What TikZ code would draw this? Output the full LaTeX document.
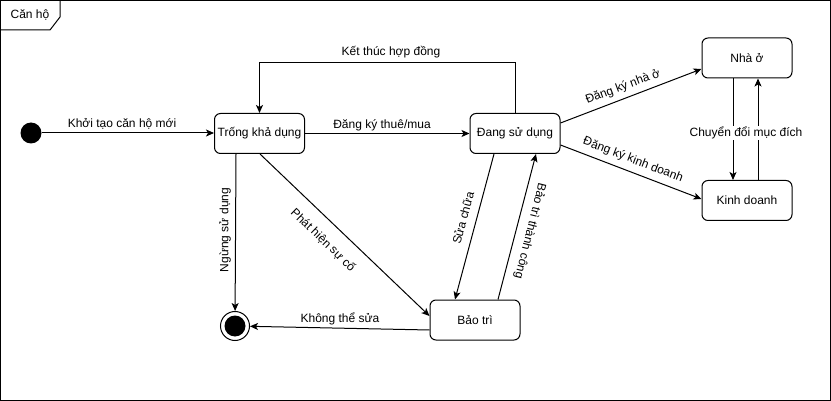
\documentclass[tikz,border=0pt]{standalone}
\usepackage{fontspec}
\setmainfont{Liberation Sans}
\usetikzlibrary{arrows.meta,calc}
\begin{document}
\begin{tikzpicture}[x=1pt,y=-1pt,
  every node/.style={font=\fontsize{12}{14}\selectfont},
  state/.style={draw,line width=1pt,rounded corners=6pt,minimum width=90pt,minimum height=40pt,inner sep=0pt},
  arr/.style={line width=1pt,-{Stealth[length=8pt,width=7pt,inset=2pt]}},
  lbl/.style={inner sep=1pt},
  initstate/.style={circle,fill=black,minimum size=21pt,inner sep=0pt},
  finalstate/.style={circle,draw,line width=1pt,minimum size=29pt,inner sep=0pt}
]
\useasboundingbox (0,0) rectangle (831,401);
\draw[line width=1pt] (0.5,0.5) rectangle (830.5,400.5);
\draw[line width=1pt] (0.5,30) -- (50,30) -- (60,17) -- (60,0.5);
\node[lbl] (tab) at (30,15) {Căn hộ};

\node[initstate] (init) at (31,133) {};
\node[state] (trong) at (259.5,133.5) {Trống khả dụng};
\node[state] (dang) at (515,133.5) {Đang sử dụng};
\node[state] (nha) at (747,58) {Nhà ở};
\node[state] (kd) at (747,200.5) {Kinh doanh};
\node[state] (bt) at (475,320) {Bảo trì};
\node[finalstate] (fin) at (235,326) {};
\fill (fin) circle (10.5pt);

% edges
\draw[arr] (init) -- (init -| trong.west);
\draw[arr] (trong) -- (dang);
\draw[arr] (dang.north) -- ++(0,-50.5) coordinate (k1) -| (trong.north);
\draw[arr] ([xshift=-23.5pt]trong.south) -- (fin);
\draw[arr] ([xshift=0.5pt]trong.south) -- ([yshift=4pt]bt.west);
\draw[arr] ([xshift=-21pt]dang.south) -- ([xshift=-20pt]bt.north);
\draw[arr] ([xshift=23pt]bt.north) -- ([xshift=21pt]dang.south);
\draw[arr] ([yshift=10.5pt]dang.east) -- ([yshift=-11pt]nha.west);
\draw[arr] ([yshift=-11.5pt]dang.east) -- ([yshift=1.5pt]kd.west);
\draw[arr] ([xshift=-14pt]nha.south) -- ([xshift=-14pt]kd.north);
\draw[arr] ([xshift=11pt]kd.north) -- ([xshift=11pt]nha.south);
\draw[arr] ([yshift=-10pt]bt.west) -- (fin);

% labels
\node[lbl] (l1) at (122,124) {Khởi tạo căn hộ mới};
\node[lbl] (l2) at (382,125) {Đăng ký thuê/mua};
\node[lbl] (l3) at (391,52) {Kết thúc hợp đồng};
\node[lbl,rotate=90] (l4) at (225,230) {Ngừng sử dụng};
\node[lbl,rotate=-44] (l5) at (323,240) {Phát hiện sự cố};
\node[lbl,rotate=75] (l6) at (463,218) {Sửa chữa};
\node[lbl,rotate=-104] (l7) at (530,231) {Bảo trì thành công};
\node[lbl,rotate=20.5] (l8) at (623,87) {Đăng ký nhà ở};
\node[lbl,rotate=-21] (l9) at (633,160) {Đăng ký kinh doanh};
\node[lbl,fill=white] (l10) at (746,133) {Chuyển đổi mục đích};
\node[lbl] (l11) at (340,319) {Không thể sửa};
\end{tikzpicture}
\end{document}
